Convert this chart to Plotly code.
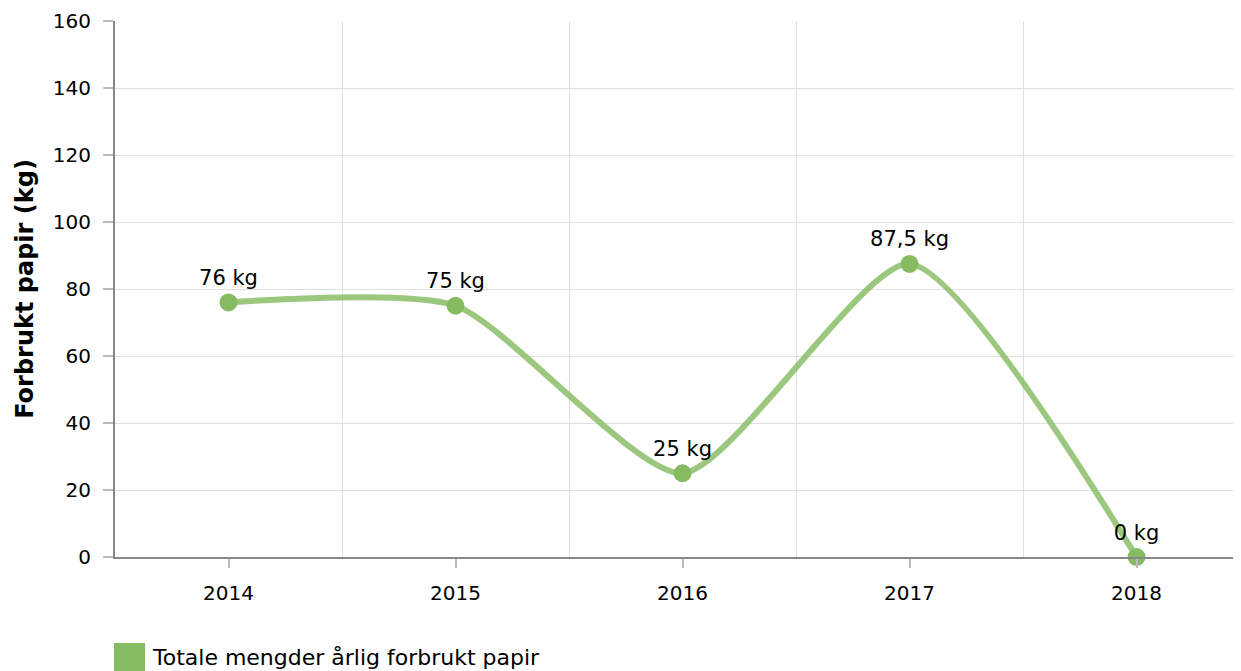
import plotly.graph_objects as go

years = [2014, 2015, 2016, 2017, 2018]
values = [76, 75, 25, 87.5, 0]
labels = ["76 kg", "75 kg", "25 kg", "87,5 kg", "0 kg"]
series_name = "Totale mengder årlig forbrukt papir"
y_title = "Forbrukt papir (kg)"

FONT = "DejaVu Sans, Verdana, sans-serif"
LINE_COLOR = "rgba(134,187,98,0.82)"
MARKER_COLOR = "#86bb62"

# page body has an 8px margin; figure is sized/margined to compensate
OFF = 8
W, H = 1241 - OFF, 671 - OFF
L, T, B = 115 - OFF, 21 - OFF, 671 - 557
PW, PH = W - L, H - T - B

fig = go.Figure()
fig.add_trace(go.Scatter(
    x=years, y=values, mode="lines+markers+text",
    line=dict(color=LINE_COLOR, width=6, shape="spline", smoothing=0.62),
    marker=dict(color=MARKER_COLOR, size=18),
    text=labels, textposition="top center",
    textfont=dict(family=FONT, size=21, color="#000000"),
    name=series_name, showlegend=False, cliponaxis=False,
))

fig.update_layout(
    width=W, height=H,
    margin=dict(l=L, r=0, t=T, b=B),
    paper_bgcolor="white", plot_bgcolor="white",
    font=dict(family=FONT, size=20, color="#000000"),
    showlegend=False,
    xaxis=dict(
        range=[2013.5, 2018.46], tickmode="array", tickvals=years,
        ticktext=[str(y) for y in years],
        ticks="outside", ticklen=9, tickcolor="#bbbbbb", tickwidth=1.5,
        showgrid=False, zeroline=False,
        showline=True, linecolor="#888888", linewidth=2,
        minor=dict(tick0=2014.5, dtick=1, showgrid=True, gridcolor="#e0e0e0", gridwidth=1.2, ticks=""),
        tickfont=dict(family=FONT, size=20), ticklabelstandoff=8,
    ),
    yaxis=dict(
        range=[0, 160], dtick=20, tick0=0,
        ticks="outside", ticklen=10, tickcolor="#bbbbbb", tickwidth=1.5,
        showgrid=True, gridcolor="#e0e0e0", gridwidth=1.2, zeroline=False,
        showline=True, linecolor="#888888", linewidth=2,
        tickfont=dict(family=FONT, size=20), ticklabelstandoff=8,
        title=dict(text="<b>" + y_title + "</b>", font=dict(family=FONT, size=24), standoff=12),
    ),
)

# legend (manual, to match the large square swatch)
def px_x(x):
    return (x - OFF - L) / PW

def px_y(y):
    return (H - B - (y - OFF)) / PH

fig.add_shape(type="rect", xref="paper", yref="paper",
              x0=px_x(114), x1=px_x(145), y0=px_y(671), y1=px_y(643),
              fillcolor=MARKER_COLOR, line=dict(width=0), layer="above")
fig.add_annotation(xref="paper", yref="paper",
                   x=px_x(150), y=px_y(657),
                   xanchor="left", yanchor="middle", showarrow=False,
                   text=series_name, font=dict(family=FONT, size=22, color="#000000"))

fig.write_html("out.html")
